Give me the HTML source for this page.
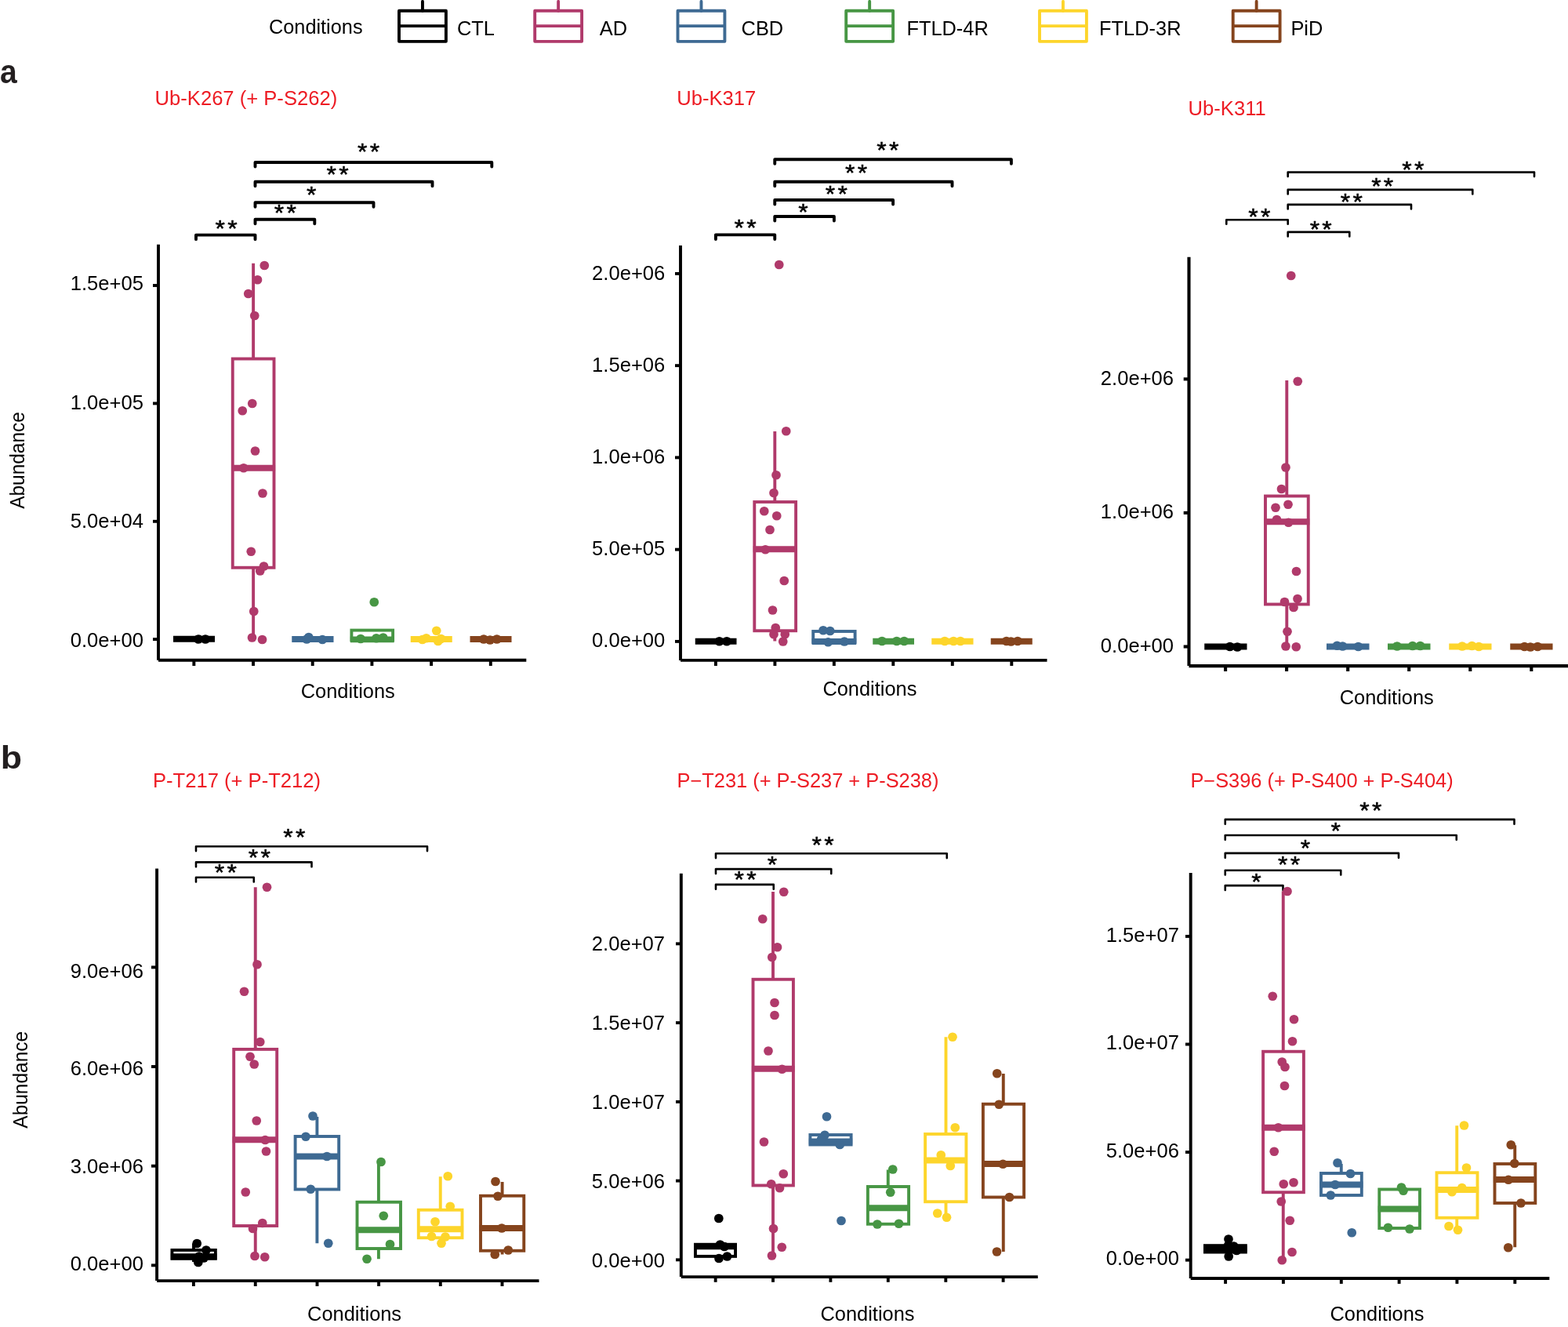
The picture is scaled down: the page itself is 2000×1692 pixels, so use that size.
<!DOCTYPE html>
<html lang="en">
<head>
<meta charset="utf-8">
<title>Abundance of tau PTMs across conditions</title>
<style>
html,body{margin:0;padding:0;background:#fff;}
body{width:2000px;height:1692px;overflow:hidden;}
svg{display:block;font-family:'Liberation Sans', Arial, Helvetica, sans-serif;}
</style>
</head>
<body>
<svg width="2000" height="1692" viewBox="0 0 2000 1692">
<rect x="0" y="0" width="2000" height="1692" fill="#ffffff"/>
<text x="343" y="42.6" font-size="25.3" fill="#000">Conditions</text>
<line x1="538.95" y1="1.9" x2="538.95" y2="13.8" stroke="#000000" stroke-width="3.9" stroke-linecap="round"/>
<rect x="509" y="13.8" width="59.9" height="39.05" fill="none" stroke="#000000" stroke-width="3.9" stroke-linejoin="round"/>
<line x1="509" y1="33.1" x2="568.9" y2="33.1" stroke="#000000" stroke-width="3.9" stroke-linecap="butt"/>
<text x="583" y="44.8" font-size="25.4" fill="#000">CTL</text>
<line x1="712.15" y1="1.9" x2="712.15" y2="13.8" stroke="#B03A6B" stroke-width="3.9" stroke-linecap="round"/>
<rect x="682.2" y="13.8" width="59.9" height="39.05" fill="none" stroke="#B03A6B" stroke-width="3.9" stroke-linejoin="round"/>
<line x1="682.2" y1="33.1" x2="742.1" y2="33.1" stroke="#B03A6B" stroke-width="3.9" stroke-linecap="butt"/>
<text x="764.8" y="44.8" font-size="25.4" fill="#000">AD</text>
<line x1="894.45" y1="1.9" x2="894.45" y2="13.8" stroke="#3E6A93" stroke-width="3.9" stroke-linecap="round"/>
<rect x="864.5" y="13.8" width="59.9" height="39.05" fill="none" stroke="#3E6A93" stroke-width="3.9" stroke-linejoin="round"/>
<line x1="864.5" y1="33.1" x2="924.4" y2="33.1" stroke="#3E6A93" stroke-width="3.9" stroke-linecap="butt"/>
<text x="945.6" y="44.8" font-size="25.4" fill="#000">CBD</text>
<line x1="1109.15" y1="1.9" x2="1109.15" y2="13.8" stroke="#479644" stroke-width="3.9" stroke-linecap="round"/>
<rect x="1079.2" y="13.8" width="59.9" height="39.05" fill="none" stroke="#479644" stroke-width="3.9" stroke-linejoin="round"/>
<line x1="1079.2" y1="33.1" x2="1139.1" y2="33.1" stroke="#479644" stroke-width="3.9" stroke-linecap="butt"/>
<text x="1156.4" y="44.8" font-size="25.4" fill="#000">FTLD-4R</text>
<line x1="1355.95" y1="1.9" x2="1355.95" y2="13.8" stroke="#FDD52B" stroke-width="3.9" stroke-linecap="round"/>
<rect x="1326" y="13.8" width="59.9" height="39.05" fill="none" stroke="#FDD52B" stroke-width="3.9" stroke-linejoin="round"/>
<line x1="1326" y1="33.1" x2="1385.9" y2="33.1" stroke="#FDD52B" stroke-width="3.9" stroke-linecap="butt"/>
<text x="1402.1" y="44.8" font-size="25.4" fill="#000">FTLD-3R</text>
<line x1="1602.65" y1="1.9" x2="1602.65" y2="13.8" stroke="#85441D" stroke-width="3.9" stroke-linecap="round"/>
<rect x="1572.7" y="13.8" width="59.9" height="39.05" fill="none" stroke="#85441D" stroke-width="3.9" stroke-linejoin="round"/>
<line x1="1572.7" y1="33.1" x2="1632.6" y2="33.1" stroke="#85441D" stroke-width="3.9" stroke-linecap="butt"/>
<text x="1646.4" y="44.8" font-size="25.4" fill="#000">PiD</text>
<text transform="translate(0.1 105.7) scale(0.93 1)" font-size="42" font-weight="bold" fill="#231F20">a</text>
<text transform="translate(0.8 980) scale(1.087 1)" font-size="41.1" font-weight="bold" fill="#231F20">b</text>
<text x="197.6" y="133.5" font-size="25.6" fill="#ED1C24">Ub-K267 (+ P-S262)</text>
<line x1="202" y1="311.8" x2="202" y2="841.8" stroke="#000" stroke-width="3.9" stroke-linecap="butt"/>
<line x1="202" y1="841.8" x2="671.3" y2="841.8" stroke="#000" stroke-width="3.9" stroke-linecap="butt"/>
<line x1="247.35" y1="841.8" x2="247.35" y2="849" stroke="#000" stroke-width="3.9" stroke-linecap="butt"/>
<line x1="323" y1="841.8" x2="323" y2="849" stroke="#000" stroke-width="3.9" stroke-linecap="butt"/>
<line x1="398.7" y1="841.8" x2="398.7" y2="849" stroke="#000" stroke-width="3.9" stroke-linecap="butt"/>
<line x1="474.4" y1="841.8" x2="474.4" y2="849" stroke="#000" stroke-width="3.9" stroke-linecap="butt"/>
<line x1="550.1" y1="841.8" x2="550.1" y2="849" stroke="#000" stroke-width="3.9" stroke-linecap="butt"/>
<line x1="625.8" y1="841.8" x2="625.8" y2="849" stroke="#000" stroke-width="3.9" stroke-linecap="butt"/>
<line x1="195" y1="364" x2="202" y2="364" stroke="#000" stroke-width="3.9" stroke-linecap="butt"/>
<text x="182.9" y="370" font-size="25.6" text-anchor="end" fill="#000">1.5e+05</text>
<line x1="195" y1="514.4" x2="202" y2="514.4" stroke="#000" stroke-width="3.9" stroke-linecap="butt"/>
<text x="182.9" y="521.5" font-size="25.6" text-anchor="end" fill="#000">1.0e+05</text>
<line x1="195" y1="664.8" x2="202" y2="664.8" stroke="#000" stroke-width="3.9" stroke-linecap="butt"/>
<text x="182.9" y="673" font-size="25.6" text-anchor="end" fill="#000">5.0e+04</text>
<line x1="195" y1="815.15" x2="202" y2="815.15" stroke="#000" stroke-width="3.9" stroke-linecap="butt"/>
<text x="182.9" y="824.5" font-size="25.6" text-anchor="end" fill="#000">0.0e+00</text>
<text x="443.75" y="889.5" font-size="25.4" text-anchor="middle" fill="#000">Conditions</text>
<text transform="translate(30.75 587.0) rotate(-90) scale(0.963 1)" font-size="25.4" text-anchor="middle">Abundance</text>
<path d="M250 305.15V299.6H325.5V305.15" fill="none" stroke="#000" stroke-width="3.9" stroke-linejoin="round" stroke-linecap="round"/>
<path d="M325.5 285.25V279.7H401.3V285.25" fill="none" stroke="#000" stroke-width="3.9" stroke-linejoin="round" stroke-linecap="round"/>
<path d="M325.5 263.85V258.3H476.5V263.85" fill="none" stroke="#000" stroke-width="3.9" stroke-linejoin="round" stroke-linecap="round"/>
<path d="M325.5 237.35V231.8H551.5V237.35" fill="none" stroke="#000" stroke-width="3.9" stroke-linejoin="round" stroke-linecap="round"/>
<path d="M325.5 212.55V207H627.3V212.55" fill="none" stroke="#000" stroke-width="3.9" stroke-linejoin="round" stroke-linecap="round"/>
<text transform="translate(274.59 301.39) scale(0.98 0.885)" font-size="32.6" letter-spacing="3.34" stroke="#000" stroke-width="0.55" stroke-linejoin="round">**</text>
<text transform="translate(349.84 280.59) scale(0.98 0.885)" font-size="32.6" letter-spacing="3.34" stroke="#000" stroke-width="0.55" stroke-linejoin="round">**</text>
<text transform="translate(390.89 257.89) scale(0.98 0.885)" font-size="32.6" letter-spacing="3.34" stroke="#000" stroke-width="0.55" stroke-linejoin="round">*</text>
<text transform="translate(416.44 231.79) scale(0.98 0.885)" font-size="32.6" letter-spacing="3.34" stroke="#000" stroke-width="0.55" stroke-linejoin="round">**</text>
<text transform="translate(455.99 203.29) scale(0.98 0.885)" font-size="32.6" letter-spacing="3.34" stroke="#000" stroke-width="0.55" stroke-linejoin="round">**</text>
<line x1="221" y1="814.8" x2="274" y2="814.8" stroke="#000000" stroke-width="8" stroke-linecap="butt"/>
<circle cx="253" cy="815" r="5.85" fill="#000000"/>
<circle cx="262" cy="815" r="5.85" fill="#000000"/>
<line x1="323.1" y1="335.75" x2="323.1" y2="457.5" stroke="#B03A6B" stroke-width="3.9" stroke-linecap="butt"/>
<line x1="323.1" y1="723.75" x2="323.1" y2="813.75" stroke="#B03A6B" stroke-width="3.9" stroke-linecap="butt"/>
<rect x="296.75" y="457.5" width="52.75" height="266.25" fill="none" stroke="#B03A6B" stroke-width="3.9" stroke-linejoin="miter"/>
<line x1="295.15" y1="596.75" x2="351.1" y2="596.75" stroke="#B03A6B" stroke-width="7.8" stroke-linecap="butt"/>
<circle cx="337.25" cy="338.5" r="5.85" fill="#B03A6B"/>
<circle cx="328.5" cy="356.75" r="5.85" fill="#B03A6B"/>
<circle cx="316.75" cy="374.5" r="5.85" fill="#B03A6B"/>
<circle cx="324.75" cy="402.5" r="5.85" fill="#B03A6B"/>
<circle cx="321.75" cy="514.5" r="5.85" fill="#B03A6B"/>
<circle cx="309.25" cy="523.75" r="5.85" fill="#B03A6B"/>
<circle cx="325.5" cy="575" r="5.85" fill="#B03A6B"/>
<circle cx="310.75" cy="596.75" r="5.85" fill="#B03A6B"/>
<circle cx="335" cy="629" r="5.85" fill="#B03A6B"/>
<circle cx="320.25" cy="703.25" r="5.85" fill="#B03A6B"/>
<circle cx="336.5" cy="722" r="5.85" fill="#B03A6B"/>
<circle cx="331.75" cy="728" r="5.85" fill="#B03A6B"/>
<circle cx="323.75" cy="779.5" r="5.85" fill="#B03A6B"/>
<circle cx="321.5" cy="813" r="5.85" fill="#B03A6B"/>
<circle cx="334.5" cy="815.5" r="5.85" fill="#B03A6B"/>
<line x1="372.25" y1="815" x2="425.5" y2="815" stroke="#3E6A93" stroke-width="8" stroke-linecap="butt"/>
<circle cx="391.25" cy="815" r="5.85" fill="#3E6A93"/>
<circle cx="393.75" cy="812.5" r="5.85" fill="#3E6A93"/>
<circle cx="411.25" cy="815.5" r="5.85" fill="#3E6A93"/>
<rect x="448.4" y="803.6" width="52.7" height="12.6" fill="none" stroke="#479644" stroke-width="3.9" stroke-linejoin="miter"/>
<line x1="446.8" y1="815.3" x2="502.7" y2="815.3" stroke="#479644" stroke-width="7.8" stroke-linecap="butt"/>
<circle cx="477.25" cy="767.75" r="5.85" fill="#479644"/>
<circle cx="460" cy="814.5" r="5.85" fill="#479644"/>
<circle cx="480" cy="813.75" r="5.85" fill="#479644"/>
<circle cx="488.75" cy="813" r="5.85" fill="#479644"/>
<line x1="523.75" y1="815" x2="576.75" y2="815" stroke="#FDD52B" stroke-width="8" stroke-linecap="butt"/>
<circle cx="556.75" cy="804.25" r="5.85" fill="#FDD52B"/>
<circle cx="543.75" cy="813.75" r="5.85" fill="#FDD52B"/>
<circle cx="538.75" cy="815.5" r="5.85" fill="#FDD52B"/>
<circle cx="562.5" cy="814.5" r="5.85" fill="#FDD52B"/>
<circle cx="558.75" cy="817.5" r="5.85" fill="#FDD52B"/>
<line x1="599.5" y1="815" x2="652.5" y2="815" stroke="#85441D" stroke-width="8" stroke-linecap="butt"/>
<circle cx="617" cy="815" r="5.85" fill="#85441D"/>
<circle cx="625" cy="816" r="5.85" fill="#85441D"/>
<circle cx="633.75" cy="815" r="5.85" fill="#85441D"/>
<text x="863.2" y="134.1" font-size="25.6" fill="#ED1C24">Ub-K317</text>
<line x1="868" y1="313" x2="868" y2="841.9" stroke="#000" stroke-width="3.9" stroke-linecap="butt"/>
<line x1="868" y1="841.9" x2="1335.5" y2="841.9" stroke="#000" stroke-width="3.9" stroke-linecap="butt"/>
<line x1="912.9" y1="841.9" x2="912.9" y2="849" stroke="#000" stroke-width="3.9" stroke-linecap="butt"/>
<line x1="988.4" y1="841.9" x2="988.4" y2="849" stroke="#000" stroke-width="3.9" stroke-linecap="butt"/>
<line x1="1063.85" y1="841.9" x2="1063.85" y2="849" stroke="#000" stroke-width="3.9" stroke-linecap="butt"/>
<line x1="1139.3" y1="841.9" x2="1139.3" y2="849" stroke="#000" stroke-width="3.9" stroke-linecap="butt"/>
<line x1="1214.8" y1="841.9" x2="1214.8" y2="849" stroke="#000" stroke-width="3.9" stroke-linecap="butt"/>
<line x1="1290.3" y1="841.9" x2="1290.3" y2="849" stroke="#000" stroke-width="3.9" stroke-linecap="butt"/>
<line x1="861" y1="348.9" x2="868" y2="348.9" stroke="#000" stroke-width="3.9" stroke-linecap="butt"/>
<text x="848.3" y="357" font-size="25.6" text-anchor="end" fill="#000">2.0e+06</text>
<line x1="861" y1="466.15" x2="868" y2="466.15" stroke="#000" stroke-width="3.9" stroke-linecap="butt"/>
<text x="848.3" y="473.88" font-size="25.6" text-anchor="end" fill="#000">1.5e+06</text>
<line x1="861" y1="583.4" x2="868" y2="583.4" stroke="#000" stroke-width="3.9" stroke-linecap="butt"/>
<text x="848.3" y="590.75" font-size="25.6" text-anchor="end" fill="#000">1.0e+06</text>
<line x1="861" y1="700.65" x2="868" y2="700.65" stroke="#000" stroke-width="3.9" stroke-linecap="butt"/>
<text x="848.3" y="707.62" font-size="25.6" text-anchor="end" fill="#000">5.0e+05</text>
<line x1="861" y1="817.9" x2="868" y2="817.9" stroke="#000" stroke-width="3.9" stroke-linecap="butt"/>
<text x="848.3" y="824.5" font-size="25.6" text-anchor="end" fill="#000">0.0e+00</text>
<text x="1109.4" y="887" font-size="25.4" text-anchor="middle" fill="#000">Conditions</text>
<path d="M912.9 304.95V299.4H988.25V304.95" fill="none" stroke="#000" stroke-width="3.9" stroke-linejoin="round" stroke-linecap="round"/>
<path d="M988.25 281.55V276H1063.9V281.55" fill="none" stroke="#000" stroke-width="3.9" stroke-linejoin="round" stroke-linecap="round"/>
<path d="M988.25 260.55V255H1139.1V260.55" fill="none" stroke="#000" stroke-width="3.9" stroke-linejoin="round" stroke-linecap="round"/>
<path d="M988.25 237.35V231.8H1214.5V237.35" fill="none" stroke="#000" stroke-width="3.9" stroke-linejoin="round" stroke-linecap="round"/>
<path d="M988.25 208.75V203.2H1289.9V208.75" fill="none" stroke="#000" stroke-width="3.9" stroke-linejoin="round" stroke-linecap="round"/>
<text transform="translate(936.44 299.69) scale(0.98 0.885)" font-size="32.6" letter-spacing="3.34" stroke="#000" stroke-width="0.55" stroke-linejoin="round">**</text>
<text transform="translate(1018.29 279.69) scale(0.98 0.885)" font-size="32.6" letter-spacing="3.34" stroke="#000" stroke-width="0.55" stroke-linejoin="round">*</text>
<text transform="translate(1052.69 257.19) scale(0.98 0.885)" font-size="32.6" letter-spacing="3.34" stroke="#000" stroke-width="0.55" stroke-linejoin="round">**</text>
<text transform="translate(1077.94 230.04) scale(0.98 0.885)" font-size="32.6" letter-spacing="3.34" stroke="#000" stroke-width="0.55" stroke-linejoin="round">**</text>
<text transform="translate(1118.19 201.29) scale(0.98 0.885)" font-size="32.6" letter-spacing="3.34" stroke="#000" stroke-width="0.55" stroke-linejoin="round">**</text>
<line x1="886.75" y1="817.75" x2="939.5" y2="817.75" stroke="#000000" stroke-width="8" stroke-linecap="butt"/>
<circle cx="917.5" cy="817.75" r="5.85" fill="#000000"/>
<circle cx="927" cy="817.75" r="5.85" fill="#000000"/>
<line x1="988.3" y1="550" x2="988.3" y2="640" stroke="#B03A6B" stroke-width="3.9" stroke-linecap="butt"/>
<line x1="988.3" y1="804.25" x2="988.3" y2="817.5" stroke="#B03A6B" stroke-width="3.9" stroke-linecap="butt"/>
<rect x="962.3" y="640" width="52.8" height="164.25" fill="none" stroke="#B03A6B" stroke-width="3.9" stroke-linejoin="miter"/>
<line x1="960.7" y1="700.25" x2="1016.7" y2="700.25" stroke="#B03A6B" stroke-width="7.8" stroke-linecap="butt"/>
<circle cx="993.75" cy="337.5" r="5.85" fill="#B03A6B"/>
<circle cx="1002.75" cy="549.75" r="5.85" fill="#B03A6B"/>
<circle cx="990" cy="605.75" r="5.85" fill="#B03A6B"/>
<circle cx="987" cy="628.5" r="5.85" fill="#B03A6B"/>
<circle cx="974.75" cy="651.75" r="5.85" fill="#B03A6B"/>
<circle cx="990.75" cy="657.75" r="5.85" fill="#B03A6B"/>
<circle cx="982" cy="675.5" r="5.85" fill="#B03A6B"/>
<circle cx="976.25" cy="700.75" r="5.85" fill="#B03A6B"/>
<circle cx="1000.25" cy="740.5" r="5.85" fill="#B03A6B"/>
<circle cx="985.5" cy="778" r="5.85" fill="#B03A6B"/>
<circle cx="989.25" cy="800.5" r="5.85" fill="#B03A6B"/>
<circle cx="987" cy="808.75" r="5.85" fill="#B03A6B"/>
<circle cx="1001.25" cy="808.75" r="5.85" fill="#B03A6B"/>
<circle cx="998.75" cy="818" r="5.85" fill="#B03A6B"/>
<rect x="1037.2" y="805" width="53.4" height="13.9" fill="none" stroke="#3E6A93" stroke-width="3.9" stroke-linejoin="miter"/>
<line x1="1035.6" y1="818" x2="1092.2" y2="818" stroke="#3E6A93" stroke-width="7.8" stroke-linecap="butt"/>
<circle cx="1050" cy="803.75" r="5.85" fill="#3E6A93"/>
<circle cx="1058.75" cy="804.5" r="5.85" fill="#3E6A93"/>
<circle cx="1056.25" cy="818.75" r="5.85" fill="#3E6A93"/>
<circle cx="1077" cy="818" r="5.85" fill="#3E6A93"/>
<line x1="1113.25" y1="817.75" x2="1166" y2="817.75" stroke="#479644" stroke-width="8" stroke-linecap="butt"/>
<circle cx="1125" cy="817.5" r="5.85" fill="#479644"/>
<circle cx="1143.75" cy="817.5" r="5.85" fill="#479644"/>
<circle cx="1153.25" cy="817.5" r="5.85" fill="#479644"/>
<line x1="1188.25" y1="817.75" x2="1241.5" y2="817.75" stroke="#FDD52B" stroke-width="8" stroke-linecap="butt"/>
<circle cx="1205" cy="817.5" r="5.85" fill="#FDD52B"/>
<circle cx="1216.25" cy="817.5" r="5.85" fill="#FDD52B"/>
<circle cx="1225" cy="817.5" r="5.85" fill="#FDD52B"/>
<line x1="1263.75" y1="817.75" x2="1316.75" y2="817.75" stroke="#85441D" stroke-width="8" stroke-linecap="butt"/>
<circle cx="1283.75" cy="817.5" r="5.85" fill="#85441D"/>
<circle cx="1289.5" cy="818" r="5.85" fill="#85441D"/>
<circle cx="1298" cy="817.5" r="5.85" fill="#85441D"/>
<text x="1515.6" y="146.8" font-size="25.6" fill="#ED1C24">Ub-K311</text>
<line x1="1516.5" y1="327.8" x2="1516.5" y2="849.1" stroke="#000" stroke-width="4.1" stroke-linecap="butt"/>
<line x1="1516.5" y1="849.1" x2="2002" y2="849.1" stroke="#000" stroke-width="4.1" stroke-linecap="butt"/>
<line x1="1563.1" y1="849.1" x2="1563.1" y2="856" stroke="#000" stroke-width="4.1" stroke-linecap="butt"/>
<line x1="1641.1" y1="849.1" x2="1641.1" y2="856" stroke="#000" stroke-width="4.1" stroke-linecap="butt"/>
<line x1="1719.2" y1="849.1" x2="1719.2" y2="856" stroke="#000" stroke-width="4.1" stroke-linecap="butt"/>
<line x1="1797.2" y1="849.1" x2="1797.2" y2="856" stroke="#000" stroke-width="4.1" stroke-linecap="butt"/>
<line x1="1875.3" y1="849.1" x2="1875.3" y2="856" stroke="#000" stroke-width="4.1" stroke-linecap="butt"/>
<line x1="1953.3" y1="849.1" x2="1953.3" y2="856" stroke="#000" stroke-width="4.1" stroke-linecap="butt"/>
<line x1="1509.7" y1="483.35" x2="1516.5" y2="483.35" stroke="#000" stroke-width="4.1" stroke-linecap="butt"/>
<text x="1497.1" y="491" font-size="25.6" text-anchor="end" fill="#000">2.0e+06</text>
<line x1="1509.7" y1="653.9" x2="1516.5" y2="653.9" stroke="#000" stroke-width="4.1" stroke-linecap="butt"/>
<text x="1497.1" y="661.4" font-size="25.6" text-anchor="end" fill="#000">1.0e+06</text>
<line x1="1509.7" y1="824.5" x2="1516.5" y2="824.5" stroke="#000" stroke-width="4.1" stroke-linecap="butt"/>
<text x="1497.1" y="831.8" font-size="25.6" text-anchor="end" fill="#000">0.0e+00</text>
<text x="1768.75" y="898.2" font-size="25.4" text-anchor="middle" fill="#000">Conditions</text>
<path d="M1564.3 285.7V280.2H1642.7V285.7" fill="none" stroke="#000" stroke-width="2.6" stroke-linejoin="round" stroke-linecap="round"/>
<path d="M1642.7 301.4V295.9H1721.3V301.4" fill="none" stroke="#000" stroke-width="2.6" stroke-linejoin="round" stroke-linecap="round"/>
<path d="M1642.7 266.4V260.9H1800V266.4" fill="none" stroke="#000" stroke-width="2.6" stroke-linejoin="round" stroke-linecap="round"/>
<path d="M1642.7 247.4V241.9H1878.3V247.4" fill="none" stroke="#000" stroke-width="2.6" stroke-linejoin="round" stroke-linecap="round"/>
<path d="M1642.7 225.1V219.6H1957V225.1" fill="none" stroke="#000" stroke-width="2.6" stroke-linejoin="round" stroke-linecap="round"/>
<text transform="translate(1592.19 285.59) scale(0.98 0.885)" font-size="32.6" letter-spacing="3.34" stroke="#000" stroke-width="0.55" stroke-linejoin="round">**</text>
<text transform="translate(1670.64 301.69) scale(0.98 0.885)" font-size="32.6" letter-spacing="3.34" stroke="#000" stroke-width="0.55" stroke-linejoin="round">**</text>
<text transform="translate(1709.84 266.79) scale(0.98 0.885)" font-size="32.6" letter-spacing="3.34" stroke="#000" stroke-width="0.55" stroke-linejoin="round">**</text>
<text transform="translate(1749.14 247.49) scale(0.98 0.885)" font-size="32.6" letter-spacing="3.34" stroke="#000" stroke-width="0.55" stroke-linejoin="round">**</text>
<text transform="translate(1788.34 225.59) scale(0.98 0.885)" font-size="32.6" letter-spacing="3.34" stroke="#000" stroke-width="0.55" stroke-linejoin="round">**</text>
<line x1="1536.25" y1="824.5" x2="1590.5" y2="824.5" stroke="#000000" stroke-width="8" stroke-linecap="butt"/>
<circle cx="1568.75" cy="824.5" r="5.85" fill="#000000"/>
<circle cx="1578.25" cy="825" r="5.85" fill="#000000"/>
<line x1="1641.3" y1="485" x2="1641.3" y2="632.5" stroke="#B03A6B" stroke-width="3.9" stroke-linecap="butt"/>
<line x1="1641.3" y1="770.5" x2="1641.3" y2="824.5" stroke="#B03A6B" stroke-width="3.9" stroke-linecap="butt"/>
<rect x="1614" y="632.5" width="54.75" height="138" fill="none" stroke="#B03A6B" stroke-width="3.9" stroke-linejoin="miter"/>
<line x1="1612.4" y1="665.25" x2="1670.35" y2="665.25" stroke="#B03A6B" stroke-width="7.8" stroke-linecap="butt"/>
<circle cx="1646.75" cy="351.5" r="5.85" fill="#B03A6B"/>
<circle cx="1655.25" cy="486.25" r="5.85" fill="#B03A6B"/>
<circle cx="1640" cy="596" r="5.85" fill="#B03A6B"/>
<circle cx="1634.5" cy="623.5" r="5.85" fill="#B03A6B"/>
<circle cx="1643" cy="643.25" r="5.85" fill="#B03A6B"/>
<circle cx="1627" cy="647.25" r="5.85" fill="#B03A6B"/>
<circle cx="1628.5" cy="662.5" r="5.85" fill="#B03A6B"/>
<circle cx="1643.5" cy="666.25" r="5.85" fill="#B03A6B"/>
<circle cx="1653.5" cy="728.5" r="5.85" fill="#B03A6B"/>
<circle cx="1655" cy="763.5" r="5.85" fill="#B03A6B"/>
<circle cx="1638.5" cy="767.5" r="5.85" fill="#B03A6B"/>
<circle cx="1650" cy="774.5" r="5.85" fill="#B03A6B"/>
<circle cx="1642" cy="805.25" r="5.85" fill="#B03A6B"/>
<circle cx="1640" cy="824" r="5.85" fill="#B03A6B"/>
<circle cx="1653.25" cy="824.75" r="5.85" fill="#B03A6B"/>
<line x1="1692" y1="824.5" x2="1746.5" y2="824.5" stroke="#3E6A93" stroke-width="8" stroke-linecap="butt"/>
<circle cx="1705.5" cy="823.25" r="5.85" fill="#3E6A93"/>
<circle cx="1712.5" cy="824" r="5.85" fill="#3E6A93"/>
<circle cx="1732.5" cy="824.5" r="5.85" fill="#3E6A93"/>
<line x1="1770" y1="824.5" x2="1824.5" y2="824.5" stroke="#479644" stroke-width="8" stroke-linecap="butt"/>
<circle cx="1782" cy="824" r="5.85" fill="#479644"/>
<circle cx="1801.75" cy="823.5" r="5.85" fill="#479644"/>
<circle cx="1811.5" cy="823.5" r="5.85" fill="#479644"/>
<line x1="1848.25" y1="824.5" x2="1902.5" y2="824.5" stroke="#FDD52B" stroke-width="8" stroke-linecap="butt"/>
<circle cx="1865" cy="824" r="5.85" fill="#FDD52B"/>
<circle cx="1877.5" cy="823.5" r="5.85" fill="#FDD52B"/>
<circle cx="1886.25" cy="824.5" r="5.85" fill="#FDD52B"/>
<line x1="1926.25" y1="824.5" x2="1980.5" y2="824.5" stroke="#85441D" stroke-width="8" stroke-linecap="butt"/>
<circle cx="1944.5" cy="824.5" r="5.85" fill="#85441D"/>
<circle cx="1952" cy="825" r="5.85" fill="#85441D"/>
<circle cx="1961.25" cy="824.5" r="5.85" fill="#85441D"/>
<text x="195" y="1003.7" font-size="25.6" fill="#ED1C24">P-T217 (+ P-T212)</text>
<line x1="200.1" y1="1107.5" x2="200.1" y2="1633.1" stroke="#000" stroke-width="3.9" stroke-linecap="butt"/>
<line x1="200.1" y1="1633.1" x2="687.5" y2="1633.1" stroke="#000" stroke-width="3.9" stroke-linecap="butt"/>
<line x1="246.9" y1="1633.1" x2="246.9" y2="1640" stroke="#000" stroke-width="3.9" stroke-linecap="butt"/>
<line x1="325.75" y1="1633.1" x2="325.75" y2="1640" stroke="#000" stroke-width="3.9" stroke-linecap="butt"/>
<line x1="404.5" y1="1633.1" x2="404.5" y2="1640" stroke="#000" stroke-width="3.9" stroke-linecap="butt"/>
<line x1="483.1" y1="1633.1" x2="483.1" y2="1640" stroke="#000" stroke-width="3.9" stroke-linecap="butt"/>
<line x1="561.8" y1="1633.1" x2="561.8" y2="1640" stroke="#000" stroke-width="3.9" stroke-linecap="butt"/>
<line x1="640.5" y1="1633.1" x2="640.5" y2="1640" stroke="#000" stroke-width="3.9" stroke-linecap="butt"/>
<line x1="193" y1="1233.35" x2="200.1" y2="1233.35" stroke="#000" stroke-width="3.9" stroke-linecap="butt"/>
<text x="182.9" y="1246.5" font-size="25.6" text-anchor="end" fill="#000">9.0e+06</text>
<line x1="193" y1="1360" x2="200.1" y2="1360" stroke="#000" stroke-width="3.9" stroke-linecap="butt"/>
<text x="182.9" y="1371" font-size="25.6" text-anchor="end" fill="#000">6.0e+06</text>
<line x1="193" y1="1486.7" x2="200.1" y2="1486.7" stroke="#000" stroke-width="3.9" stroke-linecap="butt"/>
<text x="182.9" y="1495.5" font-size="25.6" text-anchor="end" fill="#000">3.0e+06</text>
<line x1="193" y1="1613.35" x2="200.1" y2="1613.35" stroke="#000" stroke-width="3.9" stroke-linecap="butt"/>
<text x="182.9" y="1620" font-size="25.6" text-anchor="end" fill="#000">0.0e+00</text>
<text x="452.1" y="1684" font-size="25.4" text-anchor="middle" fill="#000">Conditions</text>
<text transform="translate(34.95 1376.8) rotate(-90) scale(0.963 1)" font-size="25.4" text-anchor="middle">Abundance</text>
<path d="M250 1124.5V1118.7H323.75V1124.5" fill="none" stroke="#000" stroke-width="2.6" stroke-linejoin="round" stroke-linecap="round"/>
<path d="M250 1105.2V1099.4H397.5V1105.2" fill="none" stroke="#000" stroke-width="2.6" stroke-linejoin="round" stroke-linecap="round"/>
<path d="M250 1085.1V1079.3H545V1085.1" fill="none" stroke="#000" stroke-width="2.6" stroke-linejoin="round" stroke-linecap="round"/>
<text transform="translate(273.69 1122.19) scale(0.98 0.885)" font-size="32.6" letter-spacing="3.34" stroke="#000" stroke-width="0.55" stroke-linejoin="round">**</text>
<text transform="translate(316.69 1103.39) scale(0.98 0.885)" font-size="32.6" letter-spacing="3.34" stroke="#000" stroke-width="0.55" stroke-linejoin="round">**</text>
<text transform="translate(361.19 1077.29) scale(0.98 0.885)" font-size="32.6" letter-spacing="3.34" stroke="#000" stroke-width="0.55" stroke-linejoin="round">**</text>
<line x1="247" y1="1585.5" x2="247" y2="1593.95" stroke="#000000" stroke-width="3.9" stroke-linecap="butt"/>
<line x1="247" y1="1604.85" x2="247" y2="1609" stroke="#000000" stroke-width="3.9" stroke-linecap="butt"/>
<rect x="219.45" y="1593.95" width="55.4" height="10.9" fill="none" stroke="#000000" stroke-width="3.9" stroke-linejoin="miter"/>
<line x1="217.85" y1="1602.1" x2="276.45" y2="1602.1" stroke="#000000" stroke-width="7.8" stroke-linecap="butt"/>
<circle cx="251.2" cy="1585.5" r="5.85" fill="#000000"/>
<circle cx="263" cy="1594" r="5.85" fill="#000000"/>
<circle cx="254" cy="1602" r="5.85" fill="#000000"/>
<circle cx="260" cy="1604" r="5.85" fill="#000000"/>
<circle cx="252.8" cy="1609.5" r="5.85" fill="#000000"/>
<line x1="325.75" y1="1131.25" x2="325.75" y2="1337.9" stroke="#B03A6B" stroke-width="3.9" stroke-linecap="butt"/>
<line x1="325.75" y1="1563" x2="325.75" y2="1602.75" stroke="#B03A6B" stroke-width="3.9" stroke-linecap="butt"/>
<rect x="298.2" y="1337.9" width="55" height="225.1" fill="none" stroke="#B03A6B" stroke-width="3.9" stroke-linejoin="miter"/>
<line x1="296.6" y1="1453.25" x2="354.8" y2="1453.25" stroke="#B03A6B" stroke-width="7.8" stroke-linecap="butt"/>
<circle cx="340.5" cy="1131.25" r="5.85" fill="#B03A6B"/>
<circle cx="328" cy="1229.75" r="5.85" fill="#B03A6B"/>
<circle cx="311.5" cy="1264.25" r="5.85" fill="#B03A6B"/>
<circle cx="331.75" cy="1328.5" r="5.85" fill="#B03A6B"/>
<circle cx="319" cy="1347.25" r="5.85" fill="#B03A6B"/>
<circle cx="324.25" cy="1357" r="5.85" fill="#B03A6B"/>
<circle cx="327.25" cy="1429" r="5.85" fill="#B03A6B"/>
<circle cx="338.25" cy="1453.5" r="5.85" fill="#B03A6B"/>
<circle cx="339.5" cy="1468" r="5.85" fill="#B03A6B"/>
<circle cx="313.25" cy="1520" r="5.85" fill="#B03A6B"/>
<circle cx="334.75" cy="1559.5" r="5.85" fill="#B03A6B"/>
<circle cx="322.5" cy="1566.5" r="5.85" fill="#B03A6B"/>
<circle cx="325" cy="1601.5" r="5.85" fill="#B03A6B"/>
<circle cx="337.75" cy="1602.75" r="5.85" fill="#B03A6B"/>
<line x1="404.4" y1="1424" x2="404.4" y2="1449" stroke="#3E6A93" stroke-width="3.9" stroke-linecap="butt"/>
<line x1="404.4" y1="1516.5" x2="404.4" y2="1585.25" stroke="#3E6A93" stroke-width="3.9" stroke-linecap="butt"/>
<rect x="376.6" y="1449" width="55.6" height="67.5" fill="none" stroke="#3E6A93" stroke-width="3.9" stroke-linejoin="miter"/>
<line x1="375" y1="1474.5" x2="433.8" y2="1474.5" stroke="#3E6A93" stroke-width="7.8" stroke-linecap="butt"/>
<circle cx="399" cy="1423" r="5.85" fill="#3E6A93"/>
<circle cx="390" cy="1449.25" r="5.85" fill="#3E6A93"/>
<circle cx="417" cy="1474.5" r="5.85" fill="#3E6A93"/>
<circle cx="396.25" cy="1516.25" r="5.85" fill="#3E6A93"/>
<circle cx="418.75" cy="1585.25" r="5.85" fill="#3E6A93"/>
<line x1="482.9" y1="1481.5" x2="482.9" y2="1532.75" stroke="#479644" stroke-width="3.9" stroke-linecap="butt"/>
<line x1="482.9" y1="1592" x2="482.9" y2="1605.25" stroke="#479644" stroke-width="3.9" stroke-linecap="butt"/>
<rect x="455.5" y="1532.75" width="55.5" height="59.25" fill="none" stroke="#479644" stroke-width="3.9" stroke-linejoin="miter"/>
<line x1="453.9" y1="1568.25" x2="512.6" y2="1568.25" stroke="#479644" stroke-width="7.8" stroke-linecap="butt"/>
<circle cx="486" cy="1481.5" r="5.85" fill="#479644"/>
<circle cx="489.25" cy="1550.25" r="5.85" fill="#479644"/>
<circle cx="497.5" cy="1586.5" r="5.85" fill="#479644"/>
<circle cx="468" cy="1605.25" r="5.85" fill="#479644"/>
<line x1="561.75" y1="1500.25" x2="561.75" y2="1542.75" stroke="#FDD52B" stroke-width="3.9" stroke-linecap="butt"/>
<line x1="561.75" y1="1578.25" x2="561.75" y2="1585" stroke="#FDD52B" stroke-width="3.9" stroke-linecap="butt"/>
<rect x="533.8" y="1542.75" width="55.7" height="35.5" fill="none" stroke="#FDD52B" stroke-width="3.9" stroke-linejoin="miter"/>
<line x1="532.2" y1="1567.25" x2="591.1" y2="1567.25" stroke="#FDD52B" stroke-width="7.8" stroke-linecap="butt"/>
<circle cx="571.25" cy="1499.75" r="5.85" fill="#FDD52B"/>
<circle cx="574.25" cy="1538.25" r="5.85" fill="#FDD52B"/>
<circle cx="555" cy="1557.75" r="5.85" fill="#FDD52B"/>
<circle cx="550.5" cy="1576.5" r="5.85" fill="#FDD52B"/>
<circle cx="568" cy="1577" r="5.85" fill="#FDD52B"/>
<circle cx="563" cy="1585.25" r="5.85" fill="#FDD52B"/>
<line x1="640.6" y1="1507" x2="640.6" y2="1524.75" stroke="#85441D" stroke-width="3.9" stroke-linecap="butt"/>
<line x1="640.6" y1="1594.75" x2="640.6" y2="1599.5" stroke="#85441D" stroke-width="3.9" stroke-linecap="butt"/>
<rect x="613" y="1524.75" width="55.25" height="70" fill="none" stroke="#85441D" stroke-width="3.9" stroke-linejoin="miter"/>
<line x1="611.4" y1="1566" x2="669.85" y2="1566" stroke="#85441D" stroke-width="7.8" stroke-linecap="butt"/>
<circle cx="632" cy="1506.5" r="5.85" fill="#85441D"/>
<circle cx="635" cy="1525.25" r="5.85" fill="#85441D"/>
<circle cx="640" cy="1566" r="5.85" fill="#85441D"/>
<circle cx="648.25" cy="1594" r="5.85" fill="#85441D"/>
<circle cx="631.25" cy="1599.5" r="5.85" fill="#85441D"/>
<text x="863.6" y="1003.9" font-size="25.4" fill="#ED1C24">P−T231 (+ P-S237 + P-S238)</text>
<line x1="868.8" y1="1113.8" x2="868.8" y2="1628.1" stroke="#000" stroke-width="3.9" stroke-linecap="butt"/>
<line x1="868.8" y1="1628.1" x2="1323.8" y2="1628.1" stroke="#000" stroke-width="3.9" stroke-linecap="butt"/>
<line x1="912.65" y1="1628.1" x2="912.65" y2="1634.8" stroke="#000" stroke-width="3.9" stroke-linecap="butt"/>
<line x1="986" y1="1628.1" x2="986" y2="1634.8" stroke="#000" stroke-width="3.9" stroke-linecap="butt"/>
<line x1="1059.4" y1="1628.1" x2="1059.4" y2="1634.8" stroke="#000" stroke-width="3.9" stroke-linecap="butt"/>
<line x1="1132.8" y1="1628.1" x2="1132.8" y2="1634.8" stroke="#000" stroke-width="3.9" stroke-linecap="butt"/>
<line x1="1206.3" y1="1628.1" x2="1206.3" y2="1634.8" stroke="#000" stroke-width="3.9" stroke-linecap="butt"/>
<line x1="1279.6" y1="1628.1" x2="1279.6" y2="1634.8" stroke="#000" stroke-width="3.9" stroke-linecap="butt"/>
<line x1="862" y1="1203.35" x2="868.8" y2="1203.35" stroke="#000" stroke-width="3.9" stroke-linecap="butt"/>
<text x="848.1" y="1211.5" font-size="25.6" text-anchor="end" fill="#000">2.0e+07</text>
<line x1="862" y1="1304.1" x2="868.8" y2="1304.1" stroke="#000" stroke-width="3.9" stroke-linecap="butt"/>
<text x="848.1" y="1312.7" font-size="25.6" text-anchor="end" fill="#000">1.5e+07</text>
<line x1="862" y1="1404.85" x2="868.8" y2="1404.85" stroke="#000" stroke-width="3.9" stroke-linecap="butt"/>
<text x="848.1" y="1413.9" font-size="25.6" text-anchor="end" fill="#000">1.0e+07</text>
<line x1="862" y1="1505.6" x2="868.8" y2="1505.6" stroke="#000" stroke-width="3.9" stroke-linecap="butt"/>
<text x="848.1" y="1515.1" font-size="25.6" text-anchor="end" fill="#000">5.0e+06</text>
<line x1="862" y1="1606.35" x2="868.8" y2="1606.35" stroke="#000" stroke-width="3.9" stroke-linecap="butt"/>
<text x="848.1" y="1616.3" font-size="25.6" text-anchor="end" fill="#000">0.0e+00</text>
<text x="1106.5" y="1684" font-size="25.4" text-anchor="middle" fill="#000">Conditions</text>
<path d="M913 1133.7V1127.9H986.75V1133.7" fill="none" stroke="#000" stroke-width="2.6" stroke-linejoin="round" stroke-linecap="round"/>
<path d="M913 1113.9V1108.1H1060.25V1113.9" fill="none" stroke="#000" stroke-width="2.6" stroke-linejoin="round" stroke-linecap="round"/>
<path d="M913 1094.1V1088.3H1207.75V1094.1" fill="none" stroke="#000" stroke-width="2.6" stroke-linejoin="round" stroke-linecap="round"/>
<text transform="translate(936.54 1131.29) scale(0.98 0.885)" font-size="32.6" letter-spacing="3.34" stroke="#000" stroke-width="0.55" stroke-linejoin="round">**</text>
<text transform="translate(978.79 1112.19) scale(0.98 0.885)" font-size="32.6" letter-spacing="3.34" stroke="#000" stroke-width="0.55" stroke-linejoin="round">*</text>
<text transform="translate(1035.44 1086.89) scale(0.98 0.885)" font-size="32.6" letter-spacing="3.34" stroke="#000" stroke-width="0.55" stroke-linejoin="round">**</text>
<rect x="886.95" y="1586.75" width="51.1" height="15.15" fill="none" stroke="#000000" stroke-width="3.9" stroke-linejoin="miter"/>
<line x1="885.35" y1="1589.3" x2="939.65" y2="1589.3" stroke="#000000" stroke-width="7.8" stroke-linecap="butt"/>
<circle cx="916.8" cy="1553.5" r="5.85" fill="#000000"/>
<circle cx="918.5" cy="1587" r="5.85" fill="#000000"/>
<circle cx="924" cy="1589.5" r="5.85" fill="#000000"/>
<circle cx="927.5" cy="1602" r="5.85" fill="#000000"/>
<circle cx="917" cy="1604.5" r="5.85" fill="#000000"/>
<line x1="986" y1="1137" x2="986" y2="1248.75" stroke="#B03A6B" stroke-width="3.9" stroke-linecap="butt"/>
<line x1="986" y1="1511.5" x2="986" y2="1601.5" stroke="#B03A6B" stroke-width="3.9" stroke-linecap="butt"/>
<rect x="960.5" y="1248.75" width="51.4" height="262.75" fill="none" stroke="#B03A6B" stroke-width="3.9" stroke-linejoin="miter"/>
<line x1="958.9" y1="1362.75" x2="1013.5" y2="1362.75" stroke="#B03A6B" stroke-width="7.8" stroke-linecap="butt"/>
<circle cx="999.75" cy="1137.25" r="5.85" fill="#B03A6B"/>
<circle cx="972.75" cy="1171.75" r="5.85" fill="#B03A6B"/>
<circle cx="991.5" cy="1207.75" r="5.85" fill="#B03A6B"/>
<circle cx="984.75" cy="1220.5" r="5.85" fill="#B03A6B"/>
<circle cx="988" cy="1278.5" r="5.85" fill="#B03A6B"/>
<circle cx="988" cy="1294.5" r="5.85" fill="#B03A6B"/>
<circle cx="980" cy="1340" r="5.85" fill="#B03A6B"/>
<circle cx="997.5" cy="1363.25" r="5.85" fill="#B03A6B"/>
<circle cx="974.5" cy="1456" r="5.85" fill="#B03A6B"/>
<circle cx="999.25" cy="1496.75" r="5.85" fill="#B03A6B"/>
<circle cx="983.75" cy="1509.75" r="5.85" fill="#B03A6B"/>
<circle cx="994.5" cy="1514.75" r="5.85" fill="#B03A6B"/>
<circle cx="986.5" cy="1566.5" r="5.85" fill="#B03A6B"/>
<circle cx="997.25" cy="1590.25" r="5.85" fill="#B03A6B"/>
<circle cx="984.5" cy="1601" r="5.85" fill="#B03A6B"/>
<rect x="1033.4" y="1447" width="52.2" height="12.5" fill="none" stroke="#3E6A93" stroke-width="3.9" stroke-linejoin="miter"/>
<line x1="1031.8" y1="1455.3" x2="1087.2" y2="1455.3" stroke="#3E6A93" stroke-width="7.8" stroke-linecap="butt"/>
<circle cx="1054.5" cy="1423.75" r="5.85" fill="#3E6A93"/>
<circle cx="1052" cy="1447.25" r="5.85" fill="#3E6A93"/>
<circle cx="1047.5" cy="1452.75" r="5.85" fill="#3E6A93"/>
<circle cx="1071.25" cy="1459.5" r="5.85" fill="#3E6A93"/>
<circle cx="1073" cy="1556.5" r="5.85" fill="#3E6A93"/>
<line x1="1132.75" y1="1491.5" x2="1132.75" y2="1513" stroke="#479644" stroke-width="3.9" stroke-linecap="butt"/>
<rect x="1106.9" y="1513" width="52.2" height="47.75" fill="none" stroke="#479644" stroke-width="3.9" stroke-linejoin="miter"/>
<line x1="1105.3" y1="1540.25" x2="1160.7" y2="1540.25" stroke="#479644" stroke-width="7.8" stroke-linecap="butt"/>
<circle cx="1138.75" cy="1491" r="5.85" fill="#479644"/>
<circle cx="1135.75" cy="1520.25" r="5.85" fill="#479644"/>
<circle cx="1119" cy="1561" r="5.85" fill="#479644"/>
<circle cx="1146.5" cy="1560.25" r="5.85" fill="#479644"/>
<line x1="1206.5" y1="1322.25" x2="1206.5" y2="1446" stroke="#FDD52B" stroke-width="3.9" stroke-linecap="butt"/>
<line x1="1206.5" y1="1532.25" x2="1206.5" y2="1552.75" stroke="#FDD52B" stroke-width="3.9" stroke-linecap="butt"/>
<rect x="1180.1" y="1446" width="52.3" height="86.25" fill="none" stroke="#FDD52B" stroke-width="3.9" stroke-linejoin="miter"/>
<line x1="1178.5" y1="1479.5" x2="1234" y2="1479.5" stroke="#FDD52B" stroke-width="7.8" stroke-linecap="butt"/>
<circle cx="1215" cy="1322.25" r="5.85" fill="#FDD52B"/>
<circle cx="1218.25" cy="1437.75" r="5.85" fill="#FDD52B"/>
<circle cx="1200.25" cy="1472.75" r="5.85" fill="#FDD52B"/>
<circle cx="1212.25" cy="1486.5" r="5.85" fill="#FDD52B"/>
<circle cx="1195.75" cy="1547" r="5.85" fill="#FDD52B"/>
<circle cx="1207.5" cy="1552.25" r="5.85" fill="#FDD52B"/>
<line x1="1279.75" y1="1369" x2="1279.75" y2="1407.75" stroke="#85441D" stroke-width="3.9" stroke-linecap="butt"/>
<line x1="1279.75" y1="1526.5" x2="1279.75" y2="1596" stroke="#85441D" stroke-width="3.9" stroke-linecap="butt"/>
<rect x="1253.9" y="1407.75" width="52.2" height="118.75" fill="none" stroke="#85441D" stroke-width="3.9" stroke-linejoin="miter"/>
<line x1="1252.3" y1="1484" x2="1307.7" y2="1484" stroke="#85441D" stroke-width="7.8" stroke-linecap="butt"/>
<circle cx="1271.75" cy="1368.75" r="5.85" fill="#85441D"/>
<circle cx="1274.25" cy="1408.25" r="5.85" fill="#85441D"/>
<circle cx="1279.25" cy="1484.25" r="5.85" fill="#85441D"/>
<circle cx="1287.5" cy="1526.5" r="5.85" fill="#85441D"/>
<circle cx="1271.5" cy="1596" r="5.85" fill="#85441D"/>
<text x="1518.4" y="1003.8" font-size="25.4" fill="#ED1C24">P−S396 (+ P-S400 + P-S404)</text>
<line x1="1518.7" y1="1113" x2="1518.7" y2="1630" stroke="#000" stroke-width="3.9" stroke-linecap="butt"/>
<line x1="1518.7" y1="1630" x2="1976.3" y2="1630" stroke="#000" stroke-width="3.9" stroke-linecap="butt"/>
<line x1="1563.1" y1="1630" x2="1563.1" y2="1636.9" stroke="#000" stroke-width="3.9" stroke-linecap="butt"/>
<line x1="1636.9" y1="1630" x2="1636.9" y2="1636.9" stroke="#000" stroke-width="3.9" stroke-linecap="butt"/>
<line x1="1710.8" y1="1630" x2="1710.8" y2="1636.9" stroke="#000" stroke-width="3.9" stroke-linecap="butt"/>
<line x1="1784.6" y1="1630" x2="1784.6" y2="1636.9" stroke="#000" stroke-width="3.9" stroke-linecap="butt"/>
<line x1="1858.4" y1="1630" x2="1858.4" y2="1636.9" stroke="#000" stroke-width="3.9" stroke-linecap="butt"/>
<line x1="1932.3" y1="1630" x2="1932.3" y2="1636.9" stroke="#000" stroke-width="3.9" stroke-linecap="butt"/>
<line x1="1512" y1="1193.9" x2="1518.7" y2="1193.9" stroke="#000" stroke-width="3.9" stroke-linecap="butt"/>
<text x="1504" y="1201" font-size="25.6" text-anchor="end" fill="#000">1.5e+07</text>
<line x1="1512" y1="1331.5" x2="1518.7" y2="1331.5" stroke="#000" stroke-width="3.9" stroke-linecap="butt"/>
<text x="1504" y="1338.4" font-size="25.6" text-anchor="end" fill="#000">1.0e+07</text>
<line x1="1512" y1="1469.1" x2="1518.7" y2="1469.1" stroke="#000" stroke-width="3.9" stroke-linecap="butt"/>
<text x="1504" y="1475.8" font-size="25.6" text-anchor="end" fill="#000">5.0e+06</text>
<line x1="1512" y1="1606.65" x2="1518.7" y2="1606.65" stroke="#000" stroke-width="3.9" stroke-linecap="butt"/>
<text x="1504" y="1613.2" font-size="25.6" text-anchor="end" fill="#000">0.0e+00</text>
<text x="1756.5" y="1684" font-size="25.4" text-anchor="middle" fill="#000">Conditions</text>
<path d="M1562.75 1134.95V1129.15H1636.5V1134.95" fill="none" stroke="#000" stroke-width="2.6" stroke-linejoin="round" stroke-linecap="round"/>
<path d="M1562.75 1115.5V1109.7H1710.25V1115.5" fill="none" stroke="#000" stroke-width="2.6" stroke-linejoin="round" stroke-linecap="round"/>
<path d="M1562.75 1093.7V1087.9H1784V1093.7" fill="none" stroke="#000" stroke-width="2.6" stroke-linejoin="round" stroke-linecap="round"/>
<path d="M1562.75 1070.8V1065H1857.75V1070.8" fill="none" stroke="#000" stroke-width="2.6" stroke-linejoin="round" stroke-linecap="round"/>
<path d="M1562.75 1050.7V1044.9H1931.5V1050.7" fill="none" stroke="#000" stroke-width="2.6" stroke-linejoin="round" stroke-linecap="round"/>
<text transform="translate(1596.29 1134.19) scale(0.98 0.885)" font-size="32.6" letter-spacing="3.34" stroke="#000" stroke-width="0.55" stroke-linejoin="round">*</text>
<text transform="translate(1629.94 1112.19) scale(0.98 0.885)" font-size="32.6" letter-spacing="3.34" stroke="#000" stroke-width="0.55" stroke-linejoin="round">**</text>
<text transform="translate(1658.79 1090.89) scale(0.98 0.885)" font-size="32.6" letter-spacing="3.34" stroke="#000" stroke-width="0.55" stroke-linejoin="round">*</text>
<text transform="translate(1697.54 1069.04) scale(0.98 0.885)" font-size="32.6" letter-spacing="3.34" stroke="#000" stroke-width="0.55" stroke-linejoin="round">*</text>
<text transform="translate(1734.19 1043.39) scale(0.98 0.885)" font-size="32.6" letter-spacing="3.34" stroke="#000" stroke-width="0.55" stroke-linejoin="round">**</text>
<rect x="1536.95" y="1588.15" width="51.9" height="8.4" fill="none" stroke="#000000" stroke-width="3.9" stroke-linejoin="miter"/>
<line x1="1535.35" y1="1592.3" x2="1590.45" y2="1592.3" stroke="#000000" stroke-width="7.8" stroke-linecap="butt"/>
<circle cx="1567" cy="1580" r="5.85" fill="#000000"/>
<circle cx="1566.75" cy="1587.75" r="5.85" fill="#000000"/>
<circle cx="1573.75" cy="1589" r="5.85" fill="#000000"/>
<circle cx="1577.3" cy="1594.5" r="5.85" fill="#000000"/>
<circle cx="1567.2" cy="1602" r="5.85" fill="#000000"/>
<line x1="1636.75" y1="1136.25" x2="1636.75" y2="1340.75" stroke="#B03A6B" stroke-width="3.9" stroke-linecap="butt"/>
<line x1="1636.75" y1="1520.25" x2="1636.75" y2="1606.5" stroke="#B03A6B" stroke-width="3.9" stroke-linecap="butt"/>
<rect x="1611.1" y="1340.75" width="51.8" height="179.5" fill="none" stroke="#B03A6B" stroke-width="3.9" stroke-linejoin="miter"/>
<line x1="1609.5" y1="1437.75" x2="1664.5" y2="1437.75" stroke="#B03A6B" stroke-width="7.8" stroke-linecap="butt"/>
<circle cx="1642" cy="1136.5" r="5.85" fill="#B03A6B"/>
<circle cx="1623.25" cy="1270.25" r="5.85" fill="#B03A6B"/>
<circle cx="1650.5" cy="1299.75" r="5.85" fill="#B03A6B"/>
<circle cx="1648.5" cy="1327.75" r="5.85" fill="#B03A6B"/>
<circle cx="1635.25" cy="1354" r="5.85" fill="#B03A6B"/>
<circle cx="1639" cy="1360.5" r="5.85" fill="#B03A6B"/>
<circle cx="1638.5" cy="1384.5" r="5.85" fill="#B03A6B"/>
<circle cx="1630.5" cy="1437.75" r="5.85" fill="#B03A6B"/>
<circle cx="1625.25" cy="1468.25" r="5.85" fill="#B03A6B"/>
<circle cx="1637.25" cy="1509.75" r="5.85" fill="#B03A6B"/>
<circle cx="1650" cy="1507.75" r="5.85" fill="#B03A6B"/>
<circle cx="1634.25" cy="1532" r="5.85" fill="#B03A6B"/>
<circle cx="1645.25" cy="1556.25" r="5.85" fill="#B03A6B"/>
<circle cx="1648" cy="1596.5" r="5.85" fill="#B03A6B"/>
<circle cx="1635.25" cy="1606.75" r="5.85" fill="#B03A6B"/>
<line x1="1710.75" y1="1484" x2="1710.75" y2="1496" stroke="#3E6A93" stroke-width="3.9" stroke-linecap="butt"/>
<rect x="1685" y="1496" width="51.8" height="28" fill="none" stroke="#3E6A93" stroke-width="3.9" stroke-linejoin="miter"/>
<line x1="1683.4" y1="1510.5" x2="1738.4" y2="1510.5" stroke="#3E6A93" stroke-width="7.8" stroke-linecap="butt"/>
<circle cx="1706" cy="1482.75" r="5.85" fill="#3E6A93"/>
<circle cx="1722.5" cy="1496.5" r="5.85" fill="#3E6A93"/>
<circle cx="1703" cy="1510.5" r="5.85" fill="#3E6A93"/>
<circle cx="1697.25" cy="1524" r="5.85" fill="#3E6A93"/>
<circle cx="1724.25" cy="1571.75" r="5.85" fill="#3E6A93"/>
<rect x="1759.3" y="1516.5" width="51.7" height="49.5" fill="none" stroke="#479644" stroke-width="3.9" stroke-linejoin="miter"/>
<line x1="1757.7" y1="1541.5" x2="1812.6" y2="1541.5" stroke="#479644" stroke-width="7.8" stroke-linecap="butt"/>
<circle cx="1787.5" cy="1514" r="5.85" fill="#479644"/>
<circle cx="1790" cy="1518.25" r="5.85" fill="#479644"/>
<circle cx="1770.5" cy="1565.25" r="5.85" fill="#479644"/>
<circle cx="1798" cy="1567" r="5.85" fill="#479644"/>
<line x1="1858.25" y1="1435.25" x2="1858.25" y2="1495.25" stroke="#FDD52B" stroke-width="3.9" stroke-linecap="butt"/>
<line x1="1858.25" y1="1552.75" x2="1858.25" y2="1567.75" stroke="#FDD52B" stroke-width="3.9" stroke-linecap="butt"/>
<rect x="1832.5" y="1495.25" width="52" height="57.5" fill="none" stroke="#FDD52B" stroke-width="3.9" stroke-linejoin="miter"/>
<line x1="1830.9" y1="1517" x2="1886.1" y2="1517" stroke="#FDD52B" stroke-width="7.8" stroke-linecap="butt"/>
<circle cx="1867.5" cy="1435" r="5.85" fill="#FDD52B"/>
<circle cx="1870.5" cy="1489" r="5.85" fill="#FDD52B"/>
<circle cx="1864.75" cy="1514.5" r="5.85" fill="#FDD52B"/>
<circle cx="1852" cy="1519.75" r="5.85" fill="#FDD52B"/>
<circle cx="1848" cy="1563.5" r="5.85" fill="#FDD52B"/>
<circle cx="1859.5" cy="1568.25" r="5.85" fill="#FDD52B"/>
<line x1="1932.25" y1="1460.25" x2="1932.25" y2="1484" stroke="#85441D" stroke-width="3.9" stroke-linecap="butt"/>
<line x1="1932.25" y1="1534" x2="1932.25" y2="1590.25" stroke="#85441D" stroke-width="3.9" stroke-linecap="butt"/>
<rect x="1906.5" y="1484" width="51.8" height="50" fill="none" stroke="#85441D" stroke-width="3.9" stroke-linejoin="miter"/>
<line x1="1904.9" y1="1504" x2="1959.9" y2="1504" stroke="#85441D" stroke-width="7.8" stroke-linecap="butt"/>
<circle cx="1927.25" cy="1459.75" r="5.85" fill="#85441D"/>
<circle cx="1931.75" cy="1483.5" r="5.85" fill="#85441D"/>
<circle cx="1924" cy="1504.25" r="5.85" fill="#85441D"/>
<circle cx="1940" cy="1534" r="5.85" fill="#85441D"/>
<circle cx="1923.75" cy="1590.75" r="5.85" fill="#85441D"/>
</svg>
</body>
</html>
